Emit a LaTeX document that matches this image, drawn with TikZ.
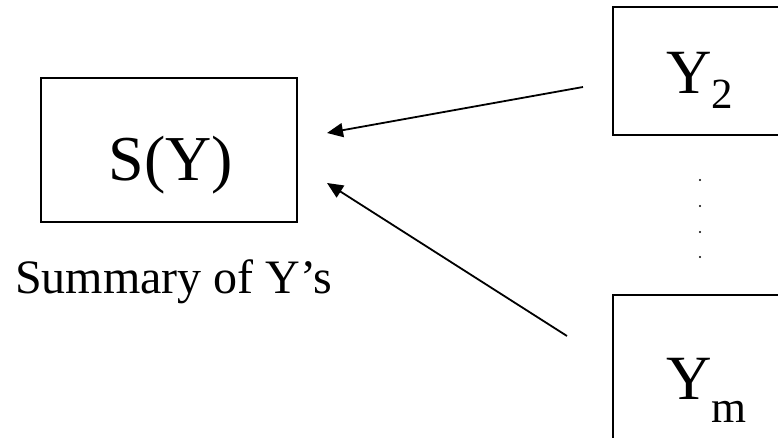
\documentclass[tikz,border=0pt]{standalone}
\usepackage{fontspec}
\setmainfont{Liberation Serif}
\usetikzlibrary{arrows.meta}
\begin{document}
\begin{tikzpicture}[x=1pt,y=-1pt,
  boxst/.style={draw=black,line width=1.7pt,inner sep=0pt,outer sep=0pt},
  txt/.style={inner sep=0pt,outer sep=0pt},
  dotst/.style={circle,fill=black,inner sep=0pt,minimum size=2.2pt},
  arr/.style={line width=1.8pt,-{Triangle[length=16pt,width=14pt]}}]
\useasboundingbox (0,0) rectangle (778,438);
\clip (0,0) rectangle (778,438);
% S(Y) box
\node[boxst,minimum width=256pt,minimum height=144pt] (sbox) at (169,150) {};
\node[txt,anchor=base,font=\fontsize{64}{70}\selectfont] (stext) at (171,181) {S(Y)};
\node[txt,anchor=base west,font=\fontsize{48}{52}\selectfont] (summ) at (15,293) {Summary of Y’s};
% Y2 box
\node[boxst,minimum width=227pt,minimum height=128pt] (y2box) at (726.5,71) {};
\node[txt,anchor=base west,font=\fontsize{63}{70}\selectfont] (y2) at (666,94) {Y\raisebox{-15pt}{\fontsize{43}{45}\selectfont 2}};
% Ym box
\node[boxst,minimum width=227pt,minimum height=175pt] (ymbox) at (726.5,382.5) {};
\node[txt,anchor=base west,font=\fontsize{63}{70}\selectfont] (ym) at (666,399) {Y\raisebox{-23pt}{\fontsize{45}{47}\selectfont m}};
% dots
\node[dotst] (d1) at (700,180) {};
\node[dotst] (d2) at (700,206) {};
\node[dotst] (d3) at (700,232) {};
\node[dotst] (d4) at (700,257) {};
% arrows
\coordinate (a1s) at (583,87);
\coordinate (a1e) at (327,133);
\coordinate (a2s) at (567,336);
\coordinate (a2e) at (327,183);
\draw[arr] (a1s) -- (a1e);
\draw[arr] (a2s) -- (a2e);
\end{tikzpicture}
\end{document}
